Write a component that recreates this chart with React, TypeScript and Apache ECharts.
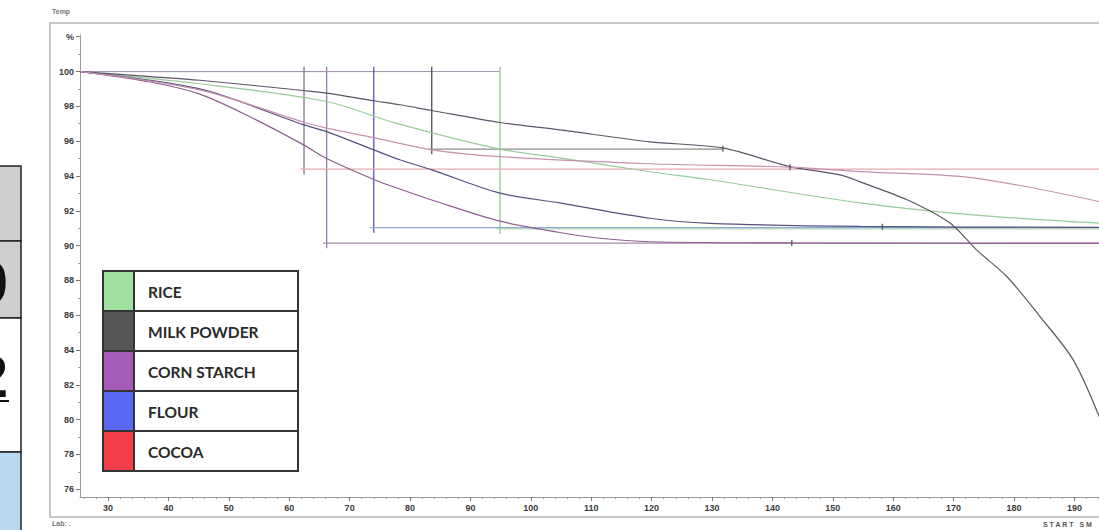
import React, { useEffect, useRef } from "react";
import * as echarts from "echarts";

// ---------- data ----------
const materials = ["RICE", "MILK POWDER", "CORN STARCH", "FLOUR", "COCOA"];
const legendColors = ["#a2e0a2", "#555555", "#a45ab6", "#5868f2", "#f23f49"];
const curveColors = ["#98cc98", "#5e5468", "#8c5e8e", "#55507e", "#c690ae"];
const boxVerticalColors = ["#8cc28c", "#3e3e3e", "#8a74a0", "#4c4ca2", "#76688a"];
const boxHorizontalColors = ["#b4dcb4", "#8c8c8c", "#a48aaa", "#8aaad8", "#eaa8b2"];

const riceTime = [25.4, 45.2, 66.2, 77.5, 94.9, 104.8, 119.7, 129.7, 154.5, 173.2, 194.1];
const riceMass = [100, 99.3, 98.28, 97.05, 95.54, 95.04, 94.24, 93.78, 92.45, 91.76, 91.29];

const milkTime = [25.4, 37.0, 45.2, 62.3, 66.2, 74.0, 78.3, 83.6, 94.9, 104.8, 119.7, 131.9, 142.9, 151.2, 154.5, 162.3, 169.4, 173.8, 178.8, 184.3, 189.8, 194.1];
const milkMass = [100, 99.71, 99.5, 98.91, 98.76, 98.32, 98.09, 97.76, 97.07, 96.65, 95.96, 95.6, 94.54, 94.06, 93.66, 92.63, 91.29, 89.75, 88.22, 85.92, 83.43, 80.17];

const cornTime = [25.4, 37.0, 45.2, 53.5, 62.3, 66.2, 74.0, 78.3, 83.6, 94.9, 104.8, 111.4, 119.7, 142.9, 194.1];
const cornMass = [100, 99.4, 98.7, 97.4, 95.8, 95.0, 93.8, 93.25, 92.62, 91.4, 90.75, 90.42, 90.22, 90.15, 90.12];

const flourTime = [25.4, 45.2, 62.3, 66.2, 74.0, 78.3, 83.6, 94.9, 104.8, 119.7, 129.7, 154.5, 194.1];
const flourMass = [100, 99.0, 96.95, 96.55, 95.5, 94.93, 94.35, 93.01, 92.45, 91.57, 91.28, 91.1, 91.04];

const cocoaTime = [25.4, 45.2, 62.3, 66.2, 74.0, 83.6, 94.9, 119.7, 142.9, 154.5, 173.2, 194.1];
const cocoaMass = [100, 98.95, 97.1, 96.75, 96.2, 95.5, 95.11, 94.7, 94.51, 94.25, 93.89, 92.53];

const curveTimes = [riceTime, milkTime, cornTime, flourTime, cocoaTime];
const curveMasses = [riceMass, milkMass, cornMass, flourMass, cocoaMass];

const boxStartTime = [94.9, 83.6, 66.2, 74.0, 62.45];
const boxResult = [90.96, 95.54, 90.14, 91.03, 94.39];
const boxEndTime = [194.07, 131.8, 194.07, 194.07, 194.07];

const endMarkTime = [131.8, 142.9, 143.2, 158.2];
const endMarkMass = [95.56, 94.5, 90.15, 91.08];

const xTickLabels = [30, 40, 50, 60, 70, 80, 90, 100, 110, 120, 130, 140, 150, 160, 170, 180, 190];
const yTickLabels = [76, 78, 80, 82, 84, 86, 88, 90, 92, 94, 96, 98, 100, 102];

const sideCellLabels = ["", "0", "2", ""];

// ---------- helpers ----------
const X_MIN = 25.36;
const X_MAX = 194.07;
const Y_MIN = 75.55;
const Y_MAX = 102.1;

const zip = (a: number[], b: number[]) => a.map((v, i) => [v, b[i]]);

const xMinorTicks: number[] = [];
for (let v = 26; v <= 194; v += 2) if (v % 10 !== 0) xMinorTicks.push(v);
const yMinorTicks: number[] = [];
for (let v = 76; v <= 102; v += 1) if (v % 2 !== 0) yMinorTicks.push(v);

const labelFont = {
  fontFamily: "Liberation Sans, Arial, sans-serif",
  fontWeight: "bold" as const,
  fontSize: 9,
  color: "#3a3a3a",
};

function buildOption() {
  const series: any[] = [];

  materials.forEach((m, i) => {
    const t = boxStartTime[i];
    const r = boxResult[i];
    series.push({
      type: "line",
      silent: true,
      symbol: "none",
      z: 2,
      data: [
        [X_MIN, 100],
        [t, 100],
      ],
      lineStyle: { color: "#a898b0", width: 1 },
    });
    series.push({
      type: "line",
      silent: true,
      symbol: "none",
      z: 2,
      data: [
        [t, 100.27],
        [t, r - 0.3],
      ],
      lineStyle: { color: boxVerticalColors[i], width: 1.2 },
    });
    series.push({
      type: "line",
      silent: true,
      symbol: "none",
      z: 2,
      data: [
        [t - 0.6, r],
        [boxEndTime[i], r],
      ],
      lineStyle: { color: boxHorizontalColors[i], width: 1.2 },
    });
  });

  materials.forEach((m, i) => {
    series.push({
      type: "line",
      name: m,
      silent: true,
      symbol: "none",
      smooth: 0.3,
      z: 3,
      data: zip(curveTimes[i], curveMasses[i]),
      lineStyle: { color: curveColors[i], width: 1.2 },
    });
  });

  series.push({
    type: "scatter",
    silent: true,
    symbol: "rect",
    symbolSize: [1.5, 6],
    z: 4,
    itemStyle: { color: "#4a4a4a" },
    data: zip(endMarkTime, endMarkMass),
  });

  const graphics: any[] = [];
  graphics.push({
    type: "rect",
    z: 0,
    silent: true,
    shape: { x: 50, y: 23, width: 1070, height: 494 },
    style: { fill: "none", stroke: "#c6c6c6", lineWidth: 2 },
  });
  graphics.push({
    type: "text",
    x: 52,
    y: 8,
    style: { text: "Temp", fontSize: 7, fontWeight: "bold", fill: "#777", fontFamily: "Liberation Sans" },
  });
  graphics.push({
    type: "text",
    x: 52,
    y: 520,
    style: { text: "Lab: .", fontSize: 7, fontWeight: "bold", fill: "#777", fontFamily: "Liberation Sans" },
  });
  graphics.push({
    type: "text",
    x: 1043,
    y: 521,
    style: { text: "S T A R T   S M", fontSize: 7, fontWeight: "bold", fill: "#555", fontFamily: "Liberation Sans" },
  });

  const legX = 103;
  const legY = 271;
  const rowH = 40;
  const swW = 31;
  const legW = 195;
  materials.forEach((m, i) => {
    graphics.push({
      type: "rect",
      z: 10,
      shape: { x: legX, y: legY + i * rowH, width: legW, height: rowH },
      style: { fill: "#ffffff", stroke: "#333333", lineWidth: 2 },
    });
    graphics.push({
      type: "rect",
      z: 11,
      shape: { x: legX, y: legY + i * rowH, width: swW, height: rowH },
      style: { fill: legendColors[i], stroke: "#333333", lineWidth: 2 },
    });
    graphics.push({
      type: "text",
      z: 12,
      x: legX + 45,
      y: legY + i * rowH + rowH / 2 + 1,
      style: {
        text: m,
        fontSize: 15.5,
        fontWeight: "bold",
        fill: "#2a2a2a",
        fontFamily: "Lato, Open Sans, sans-serif",
        verticalAlign: "middle",
      },
    });
  });

  const sideRows = [166, 241, 318, 452, 540];
  const sideFills = ["#d0cece", "#d0cece", "#ffffff", "#bdd7ee"];
  const sideTextY = [0, 282, 376, 0];
  sideCellLabels.forEach((lab, i) => {
    graphics.push({
      type: "rect",
      z: 10,
      shape: { x: -10, y: sideRows[i], width: 31, height: sideRows[i + 1] - sideRows[i] },
      style: { fill: sideFills[i], stroke: "#222", lineWidth: 1.5 },
    });
    if (lab) {
      graphics.push({
        type: "text",
        z: 11,
        x: 8,
        y: sideTextY[i],
        style: {
          text: lab,
          fontSize: 60,
          fontWeight: "bold",
          fill: "#111",
          fontFamily: "Liberation Sans, Arial",
          align: "right",
          verticalAlign: "middle",
        },
      });
    }
  });
  graphics.push({
    type: "rect",
    z: 11,
    shape: { x: 0, y: 400, width: 9, height: 2 },
    style: { fill: "#111" },
  });

  return {
    animation: false,
    backgroundColor: "#ffffff",
    grid: { left: 80, top: 35, right: 0, bottom: 33 },
    xAxis: [
      {
        type: "value",
        min: X_MIN,
        max: X_MAX,
        axisLine: { lineStyle: { color: "#9a9a9a", width: 1 } },
        axisTick: { show: true, length: 4, customValues: xTickLabels, lineStyle: { color: "#777" } },
        axisLabel: { ...labelFont, margin: 6, customValues: xTickLabels },
        splitLine: { show: false },
      },
      {
        type: "value",
        min: X_MIN,
        max: X_MAX,
        position: "bottom",
        axisLine: { show: false },
        axisTick: { show: true, length: 2, customValues: xMinorTicks, lineStyle: { color: "#999" } },
        axisLabel: { show: false },
        splitLine: { show: false },
      },
    ],
    yAxis: [
      {
        type: "value",
        min: Y_MIN,
        max: Y_MAX,
        axisLine: { show: true, lineStyle: { color: "#9a9a9a", width: 1 } },
        axisTick: { show: true, length: 4, customValues: yTickLabels, lineStyle: { color: "#777" } },
        axisLabel: {
          ...labelFont,
          margin: 6,
          customValues: yTickLabels,
          formatter: (v: number) => (v === 102 ? "%" : String(v)),
        },
        splitLine: { show: false },
      },
      {
        type: "value",
        min: Y_MIN,
        max: Y_MAX,
        position: "left",
        axisLine: { show: false },
        axisTick: { show: true, length: 2, customValues: yMinorTicks, lineStyle: { color: "#999" } },
        axisLabel: { show: false },
        splitLine: { show: false },
      },
    ],
    graphic: graphics,
    series,
  };
}

export default function App() {
  const ref = useRef<HTMLDivElement>(null);
  useEffect(() => {
    if (!ref.current) return;
    const chart = echarts.init(ref.current, undefined, { renderer: "svg" });
    chart.setOption(buildOption() as any);
    return () => chart.dispose();
  }, []);
  return (
    <div
      ref={ref}
      style={{ position: "fixed", left: 0, top: 0, width: 1099, height: 530, background: "#fff" }}
    />
  );
}
